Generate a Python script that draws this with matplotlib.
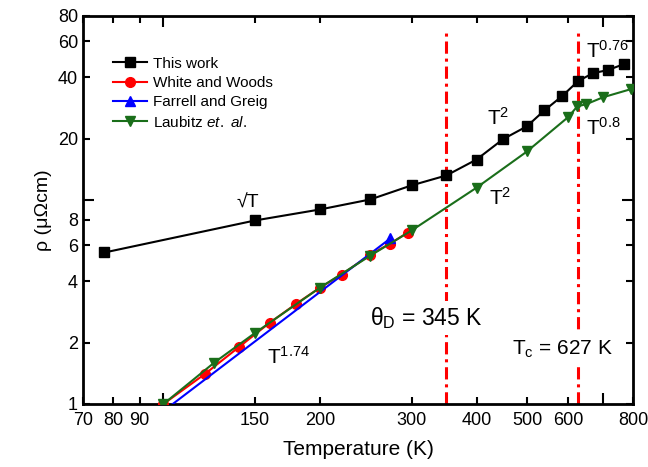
import numpy as np
import matplotlib
matplotlib.use('Agg')
from matplotlib import pyplot as plt
from matplotlib.ticker import FixedLocator, NullFormatter

plt.rcParams['font.family'] = ['Liberation Sans', 'DejaVu Sans']
plt.rcParams['mathtext.fontset'] = 'custom'
plt.rcParams['mathtext.rm'] = 'Liberation Sans'
plt.rcParams['mathtext.it'] = 'Liberation Sans:italic'

# this work
t_this = [77, 150, 200, 250, 300, 350, 400, 450, 500, 540, 584, 627, 670, 716, 768]
rho_this = [5.53, 7.94, 8.99, 10.07, 11.8, 13.2, 15.8, 19.9, 23.0, 27.5, 32.3, 38.3, 41.9, 43.4, 46.4]

# White and Woods
t_white = [100, 120, 140, 160, 180, 200, 220, 250, 273, 295]
rho_white = [1.0, 1.40, 1.91, 2.50, 3.10, 3.72, 4.31, 5.40, 6.12, 6.93]

# Farrell and Greig (fit line, one marker)
t_farrell = [100, 273]
rho_farrell = [0.923, 6.48]

# Laubitz et al.
t_laub = [100, 125, 150, 200, 250, 300, 400, 500, 600, 625, 650, 700, 793]
rho_laub = [1.0, 1.59, 2.23, 3.72, 5.34, 7.09, 11.5, 17.3, 25.5, 28.8, 29.5, 31.9, 35.0]

theta_d = 350
t_c = 627

xticks = [70, 80, 90, 150, 200, 300, 400, 500, 600, 800]
yticks = [1, 2, 4, 6, 8, 20, 40, 60, 80]

fig = plt.figure(figsize=(6.48, 4.67), dpi=100)
ax = fig.add_axes([0.128, 0.135, 0.849, 0.831])

ax.plot(t_white, rho_white, '-o', color='red', ms=7, lw=1.5, label='White and Woods', zorder=3)
ax.plot(t_farrell, rho_farrell, '-^', color='blue', ms=7, lw=1.5, markevery=[1],
        label='Farrell and Greig', zorder=4)
ax.plot(t_laub, rho_laub, '-v', color='#1a6e1a', ms=7, lw=1.5, label=r'Laubitz $et.$ $al.$', zorder=5)
ax.plot(t_this, rho_this, '-s', color='black', ms=6.5, lw=1.5, label='This work', zorder=6)

for xv in [theta_d, t_c]:
    ax.axvline(xv, ymax=0.956, color='red', lw=2.2, zorder=2, dashes=(4, 1.6, 1, 1.6))

ax.set_xscale('log')
ax.set_yscale('log')
ax.set_xlim(70, 800)
ax.set_ylim(1, 80)

ax.xaxis.set_major_locator(FixedLocator(xticks))
ax.set_xticklabels([str(v) for v in xticks])
ax.xaxis.set_minor_locator(FixedLocator([100, 700]))
ax.xaxis.set_minor_formatter(NullFormatter())
ax.yaxis.set_major_locator(FixedLocator(yticks))
ax.set_yticklabels([str(v) for v in yticks])
ax.yaxis.set_minor_locator(FixedLocator([10]))
ax.yaxis.set_minor_formatter(NullFormatter())

ax.tick_params(which='both', direction='in', top=True, right=True, labelsize=13, width=1.5)
ax.tick_params(which='major', length=5)
ax.tick_params(which='minor', length=8)
ax.tick_params(axis='x', pad=6)
for s in ax.spines.values():
    s.set_linewidth(2)

ax.set_xlabel('Temperature (K)', fontsize=15, labelpad=8)
ax.set_ylabel(u'\u03c1 (\u03bc\u03a9cm)', fontsize=14, labelpad=4)

box = dict(facecolor='white', edgecolor='none', pad=3)
ax.text(145, 9.7, u'\u221aT', fontsize=14, ha='center', va='center')
ax.text(440, 25.2, r'T$^2$', fontsize=15, ha='center', va='center')
ax.text(445, 10.2, r'T$^2$', fontsize=15, ha='center', va='center')
ax.text(650, 54, r'T$^{0.76}$', fontsize=15, ha='left', va='center')
ax.text(650, 22.5, r'T$^{0.8}$', fontsize=15, ha='left', va='center')
ax.text(158, 1.70, r'T$^{1.74}$', fontsize=15, ha='left', va='center')
ax.text(249, 2.65, u'\u03b8$_\\mathrm{D}$ = 345 K', fontsize=16.5, ha='left', va='center',
        bbox=box, zorder=7)
ax.text(469, 1.86, r'T$_\mathrm{c}$ = 627 K', fontsize=15, ha='left', va='center',
        bbox=box, zorder=7)

h, l = ax.get_legend_handles_labels()
order = [3, 0, 1, 2]
ax.legend([h[i] for i in order], [l[i] for i in order], loc='upper left', frameon=False,
          fontsize=11, handlelength=2.2, handletextpad=0.4, labelspacing=0.35,
          bbox_to_anchor=(0.03, 0.93))

fig.savefig('out.png', dpi=100)
